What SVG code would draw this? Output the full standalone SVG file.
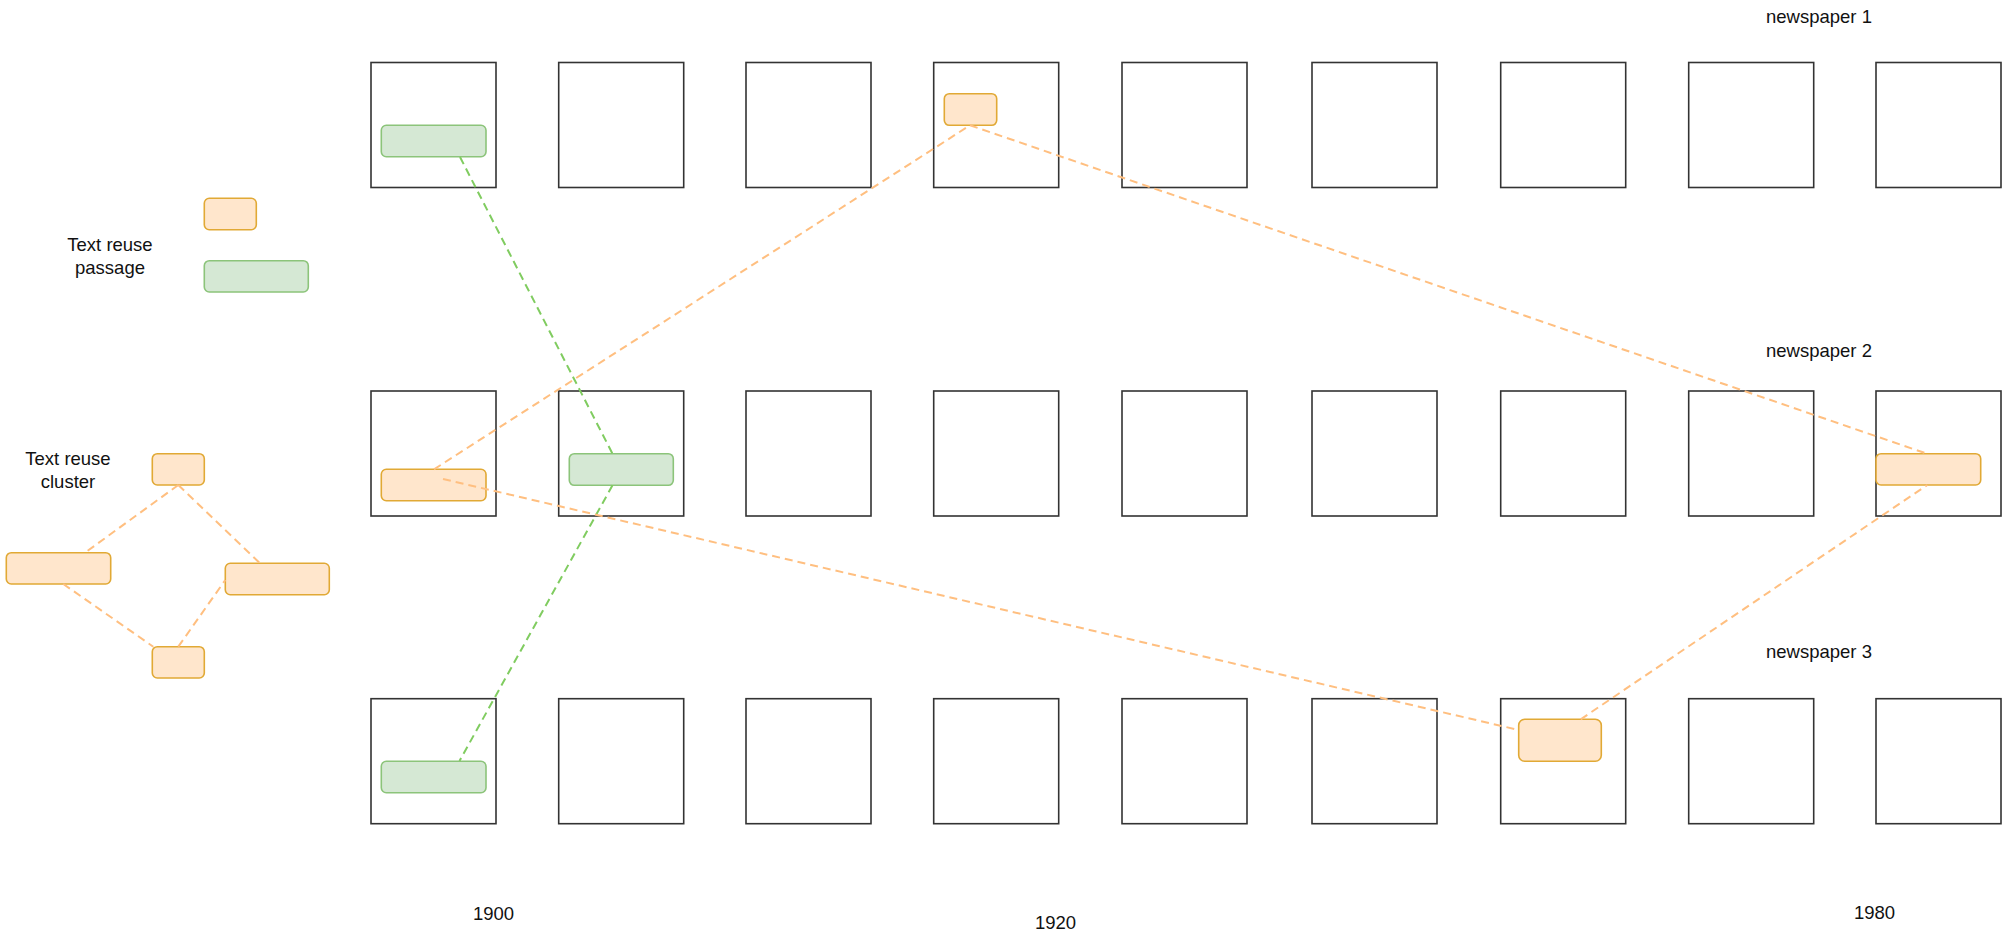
<svg xmlns="http://www.w3.org/2000/svg" width="2008" height="938" viewBox="0 0 2008 938">
<style>
.page{fill:#ffffff;stroke:#333333;stroke-width:1.6}
.or{fill:#ffe6cc;stroke:#e1a935;stroke-width:1.6}
.gr{fill:#d5e8d4;stroke:#8cc47a;stroke-width:1.6}
.eo{fill:none;stroke:#ffbf80;stroke-width:2;stroke-dasharray:8 5}
.eg{fill:none;stroke:#80cc60;stroke-width:2;stroke-dasharray:8 5}
.t{font-family:"Liberation Sans",Arial,sans-serif;font-size:18.5px;fill:#111111}
</style>
<rect x="0" y="0" width="2008" height="938" fill="#ffffff"/>
<g id="pages-row1">
<rect class="page" x="371" y="62.5" width="125" height="125"/>
<rect class="page" x="558.7" y="62.5" width="125" height="125"/>
<rect class="page" x="746" y="62.5" width="125" height="125"/>
<rect class="page" x="933.7" y="62.5" width="125" height="125"/>
<rect class="page" x="1122" y="62.5" width="125" height="125"/>
<rect class="page" x="1312" y="62.5" width="125" height="125"/>
<rect class="page" x="1500.7" y="62.5" width="125" height="125"/>
<rect class="page" x="1688.7" y="62.5" width="125" height="125"/>
<rect class="page" x="1876" y="62.5" width="125" height="125"/>
</g>
<g id="pages-row2">
<rect class="page" x="371" y="391" width="125" height="125"/>
<rect class="page" x="558.7" y="391" width="125" height="125"/>
<rect class="page" x="746" y="391" width="125" height="125"/>
<rect class="page" x="933.7" y="391" width="125" height="125"/>
<rect class="page" x="1122" y="391" width="125" height="125"/>
<rect class="page" x="1312" y="391" width="125" height="125"/>
<rect class="page" x="1500.7" y="391" width="125" height="125"/>
<rect class="page" x="1688.7" y="391" width="125" height="125"/>
<rect class="page" x="1876" y="391" width="125" height="125"/>
</g>
<g id="pages-row3">
<rect class="page" x="371" y="698.7" width="125" height="125"/>
<rect class="page" x="558.7" y="698.7" width="125" height="125"/>
<rect class="page" x="746" y="698.7" width="125" height="125"/>
<rect class="page" x="933.7" y="698.7" width="125" height="125"/>
<rect class="page" x="1122" y="698.7" width="125" height="125"/>
<rect class="page" x="1312" y="698.7" width="125" height="125"/>
<rect class="page" x="1500.7" y="698.7" width="125" height="125"/>
<rect class="page" x="1688.7" y="698.7" width="125" height="125"/>
<rect class="page" x="1876" y="698.7" width="125" height="125"/>
</g>
<g id="passages">
<rect id="g1" class="gr" x="381.3" y="125.3" width="104.7" height="31.4" rx="5"/>
<rect id="g2" class="gr" x="569.3" y="453.7" width="104" height="31.6" rx="5"/>
<rect id="g3" class="gr" x="381.3" y="761.3" width="104.7" height="31.4" rx="5"/>
<rect id="o1" class="or" x="944.3" y="93.7" width="52.4" height="31.6" rx="5"/>
<rect id="o2" class="or" x="381.3" y="469.3" width="104.7" height="31.4" rx="5"/>
<rect id="o3" class="or" x="1876" y="453.7" width="104.7" height="31.3" rx="5"/>
<rect id="o4" class="or" x="1518.7" y="719.3" width="82.6" height="42" rx="6"/>
</g>
<g id="legend">
<rect id="leg-o" class="or" x="204.3" y="198.3" width="52" height="31.4" rx="5"/>
<rect id="leg-g" class="gr" x="204.3" y="260.7" width="104" height="31.3" rx="5"/>
<rect id="cl-top" class="or" x="152.3" y="453.7" width="52" height="31.3" rx="5"/>
<rect id="cl-left" class="or" x="6.3" y="552.7" width="104.4" height="31.3" rx="5"/>
<rect id="cl-right" class="or" x="225.3" y="563.3" width="104" height="31.4" rx="5"/>
<rect id="cl-bottom" class="or" x="152.3" y="646.7" width="52" height="31.3" rx="5"/>
</g>
<g id="connectors">
<line class="eg" x1="460" y1="157" x2="612.5" y2="453.7"/>
<line class="eg" x1="612.5" y1="485.3" x2="459.5" y2="761"/>
<line class="eo" x1="434" y1="469.3" x2="970" y2="125.3"/>
<line class="eo" x1="970" y1="125.3" x2="1927" y2="453.7"/>
<line class="eo" x1="443" y1="479" x2="1518.7" y2="730"/>
<line class="eo" x1="1580.7" y1="719.3" x2="1927.3" y2="485"/>
<line class="eo" x1="178.3" y1="485" x2="85" y2="552.7"/>
<line class="eo" x1="178.3" y1="485" x2="260" y2="563.3"/>
<line class="eo" x1="63.3" y1="584" x2="153.3" y2="646.7"/>
<line class="eo" x1="178.3" y1="646.7" x2="225.3" y2="580"/>
</g>
<g id="labels">
<text class="t" x="110" y="251" text-anchor="middle">Text reuse</text>
<text class="t" x="110" y="274" text-anchor="middle">passage</text>
<text class="t" x="68" y="465" text-anchor="middle">Text reuse</text>
<text class="t" x="68" y="487.5" text-anchor="middle">cluster</text>
<text class="t" x="1766" y="22.7">newspaper 1</text>
<text class="t" x="1766" y="356.7">newspaper 2</text>
<text class="t" x="1766" y="658.3">newspaper 3</text>
<text class="t" x="473" y="920">1900</text>
<text class="t" x="1035" y="929">1920</text>
<text class="t" x="1854" y="919">1980</text>
</g>
</svg>
